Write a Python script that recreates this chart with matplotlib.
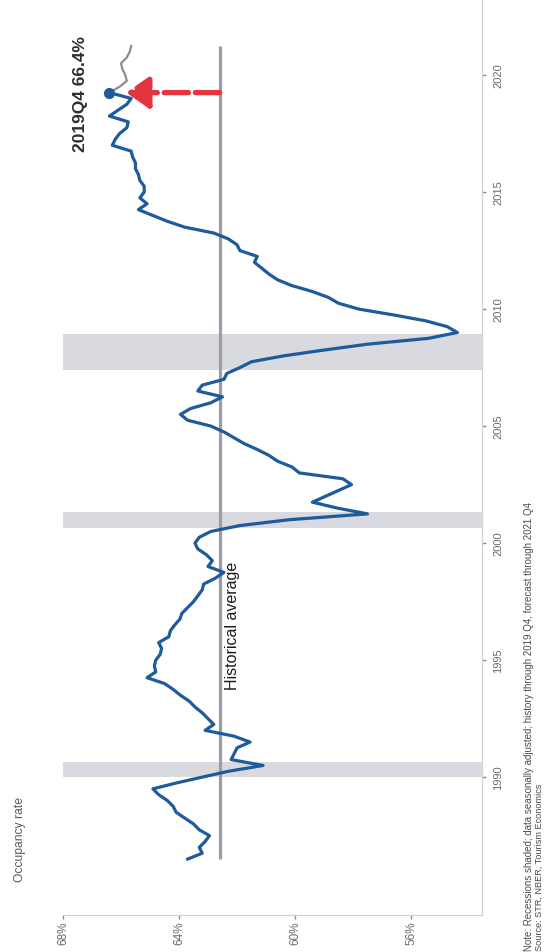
import matplotlib
matplotlib.use("Agg")
import matplotlib.pyplot as plt
import numpy as np

plt.rcParams['font.family'] = ['Liberation Sans', 'DejaVu Sans']

# Quarterly US hotel occupancy rate (%), seasonally adjusted, 1987Q1 - 2019Q4
start_year = 1987
occupancy = [
    63.7, 63.2, 63.3, 63.1, 62.95, 63.3, 63.5, 63.8, 64.1, 64.2,
    64.4, 64.7, 64.9, 64.1, 63.2, 62.3, 61.1, 62.2, 62.1, 62.0,
    61.55, 62.1, 63.1, 62.8, 63.0, 63.2, 63.45, 63.65, 63.95, 64.2,
    64.5, 65.1, 64.8, 64.85, 64.8, 64.65, 64.6, 64.7, 64.35, 64.3,
    64.15, 63.97, 63.9, 63.7, 63.5, 63.35, 63.2, 63.15, 62.75, 62.45,
    63.0, 62.85, 63.05, 63.35, 63.45, 63.3, 62.9, 61.9, 60.2, 57.5,
    58.55, 59.4, 58.95, 58.5, 58.05, 58.35, 59.85, 60.1, 60.6, 60.9,
    61.3, 61.75, 62.1, 62.45, 62.9, 63.7, 63.95, 63.6, 62.9, 62.5,
    63.35, 63.2, 62.45, 62.35, 61.9, 61.5, 60.4, 59.0, 57.5, 55.4,
    54.4, 54.75, 55.5, 56.6, 57.8, 58.5, 58.85, 59.4, 60.1, 60.6,
    60.9, 61.15, 61.4, 61.3, 61.9, 62.0, 62.3, 62.8, 63.8, 64.4,
    64.9, 65.4, 65.1, 65.35, 65.2, 65.2, 65.35, 65.4, 65.5, 65.5,
    65.6, 65.65, 66.3, 66.2, 66.05, 65.8, 65.75, 66.4, 66.1, 65.8,
    65.65, 66.4,
]
# Forecast 2020Q1 - 2021Q4
forecast = [66.05, 65.8, 65.85, 65.95, 66.0, 65.8, 65.7, 65.65]

historical_average = 62.6
last_label = "2019Q4 66.4%"

# NBER recessions (peak / trough month)
recession_peaks = [(1990, 7), (2001, 3), (2007, 12)]
recession_troughs = [(1991, 3), (2001, 11), (2009, 6)]

year_ticks = [1990, 1995, 2000, 2005, 2010, 2015, 2020]
occ_ticks = [68, 64, 60, 56]
occ_tick_labels = ["68%", "64%", "60%", "56%"]

note_line1 = ("Note: Recessions shaded; data seasonally adjusted; history through "
              "2019 Q4, forecast through 2021 Q4")
note_line2 = "Source: STR, NBER, Tourism Economics"


def q_index(year, month=1):
    """Position on the quarterly axis (0 = first quarter of start_year)."""
    return (year + (month - 1) / 12.0 - start_year) * 4.0


hist_x = np.arange(len(occupancy))
fc_x = np.arange(len(occupancy) - 1, len(occupancy) + len(forecast))
fc_y = [occupancy[-1]] + forecast

blue = "#1d5b9b"
grey_line = "#8d8d8d"
avg_color = "#9a9caa"
band_color = "#d9dadf"
red = "#e3343f"

W, H = 545, 953
fig = plt.figure(figsize=(W / 100, H / 100), dpi=100)
ax = fig.add_axes([63 / W, 37 / H, 419 / W, 916 / H])

# rotated layout: occupancy runs horizontally (high on the left), time runs upward
ax.set_xlim(68, 68 - 419 / 29)
ax.set_ylim(-9.56, 147.0)

for (py, pm), (ty, tm) in zip(recession_peaks, recession_troughs):
    ax.axhspan(q_index(py, pm), q_index(ty, tm), color=band_color, lw=0, zorder=0)

# historical average across the whole history + forecast window
ax.plot([historical_average, historical_average], [0, fc_x[-1]],
        color=avg_color, lw=2.3, solid_capstyle='butt', zorder=2)

ax.plot(occupancy, hist_x, color=blue, lw=2.3, zorder=4, solid_joinstyle='round')
ax.plot(fc_y, fc_x, color=grey_line, lw=1.6, zorder=3)
ax.plot([occupancy[-1]], [hist_x[-1]], 'o', color=blue, ms=7, zorder=5)

# dashed arrow from the historical average up to the latest value
y_last = hist_x[-1]
ax.annotate("", xy=(occupancy[-1], y_last), xytext=(historical_average, y_last),
            arrowprops=dict(arrowstyle="-|>,head_length=1.15,head_width=0.8",
                            color=red, lw=3.8, linestyle=(0, (4.6, 1.3)),
                            shrinkA=0, shrinkB=12, mutation_scale=12),
            zorder=6)

ax.text(occupancy[-1] + 1.0, y_last, last_label, rotation=90, ha='center',
        va='center', fontsize=12.5, fontweight='bold', color='#2e2e33')
ax.text(historical_average - 0.43, 40, "Historical average", rotation=90,
        ha='center', va='center', fontsize=11.5, color='#1a1a1a')

# axes styling
for side in ("left", "top"):
    ax.spines[side].set_visible(False)
for side in ("right", "bottom"):
    ax.spines[side].set_color("#d2d2d2")
    ax.spines[side].set_linewidth(0.9)

ax.set_xticks(occ_ticks)
ax.set_xticklabels(occ_tick_labels, rotation=90, fontsize=8.5, color='#6a6a6a')
ax.tick_params(axis='x', length=3, width=1.0, color='#8a8a8a', pad=1)

ax.yaxis.tick_right()
ax.set_yticks([q_index(y, 7) for y in year_ticks])
ax.set_yticklabels([str(y) for y in year_ticks], rotation=90, fontsize=8,
                   color='#6a6a6a', va='center')
ax.tick_params(axis='y', length=3, width=1.0, color='#8a8a8a', pad=5)

fig.text(20 / W, 1 - 882 / H, "Occupancy rate", rotation=90, ha='center',
         va='bottom', fontsize=8.7, color='#5a5a60')

fig.text(529 / W, 0.002, note_line1, rotation=90, ha='center', va='bottom',
         fontsize=7.0, color='#4a4a4a')
fig.text(539 / W, 0.002, note_line2, rotation=90, ha='center', va='bottom',
         fontsize=6.6, color='#4a4a4a')

fig.savefig("out.png", dpi=100, facecolor='white')
